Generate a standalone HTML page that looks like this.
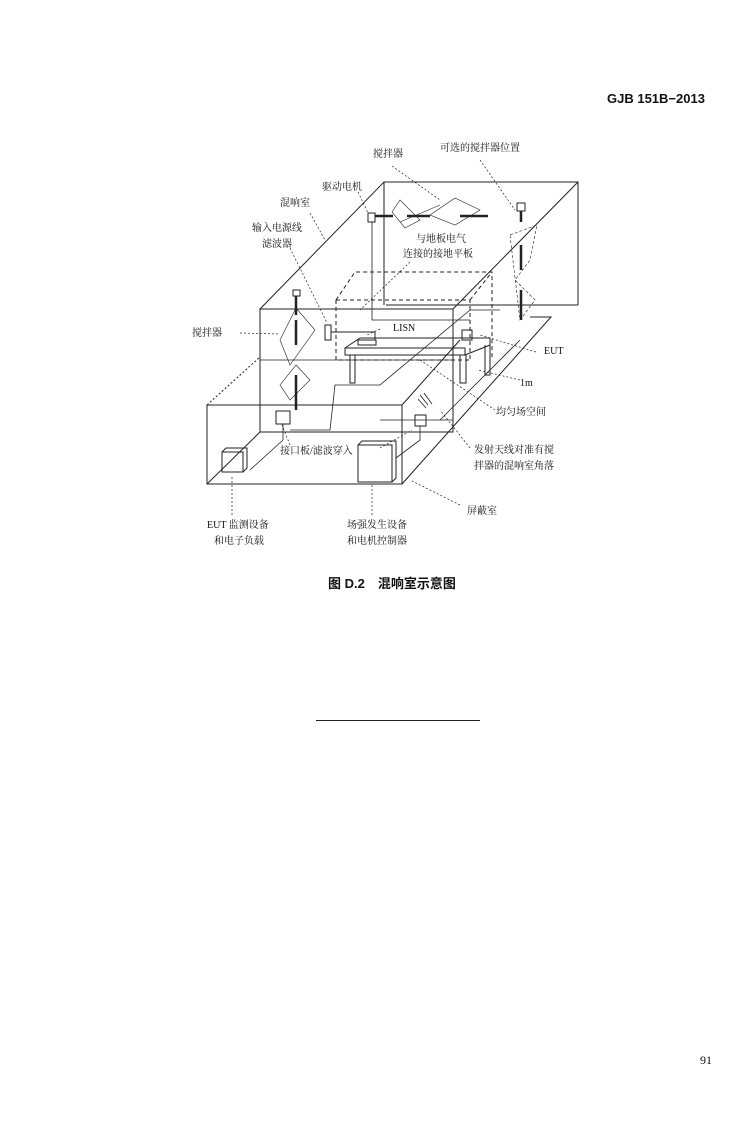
<!DOCTYPE html>
<html><head><meta charset="utf-8"><style>
body{margin:0;background:#fff;width:750px;height:1141px;overflow:hidden;position:relative;font-family:"Liberation Serif","Noto Serif CJK SC",serif;color:#111}
.t{position:absolute;font-size:10px;white-space:nowrap;line-height:12px}
</style></head><body>
<div class="t" style="left:607px;top:93px;font-size:13px;font-weight:bold;font-family:'Liberation Sans','Noto Sans CJK SC',sans-serif">GJB 151B−2013</div>
<svg width="750" height="1141" style="position:absolute;left:0;top:0" fill="none" stroke="#222" stroke-width="1">
<path d="M260,309 L384,182 L578,182 L578,305 M260,309 L453,309 L453,432 L260,432 Z M453,309 L578,182 M386,305 L578,305 M384,182 L384,305"/>
<path d="M260,360 L453,360" stroke-width="0.8"/>
<path d="M207,405 L402,405 L402,484 L207,484 Z M402,484 L551,317 L530,317 M402,405 L460,340 M207,484 L260,432" />
<path d="M207,405 L260,357" stroke-dasharray="2,2"/>
<path d="M290,430 L330,430 L335,385 L380,385 L470,310 L500,310" stroke-width="0.8"/>
<path d="M380,420 L453,420 M440,420 L520,340" stroke-width="0.8"/>
<path d="M336,300 L355,272 L492,272 L492,360 M336,300 L336,360 L470,360 M336,300 L470,300 L470,360 M470,300 L492,272" stroke-dasharray="4,3"/>
<path d="M345,348 L465,348 L465,355 L345,355 Z M345,348 L360,338 L490,338 L490,345 L465,355 M350,355 L350,383 L355,383 L355,355 M460,355 L460,383 L466,383 L466,355 M485,345 L485,375 L490,375 L490,345"/>
<rect x="358" y="340" width="18" height="5"/><rect x="462" y="330" width="10" height="10"/>
<rect x="325" y="325" width="6" height="15"/><path d="M331,332 L375,332 L375,340"/>
<rect x="293" y="290" width="7" height="6"/><path d="M296,296 L296,315" stroke-width="2.5"/><path d="M296,320 L296,345" stroke-width="2.5"/><path d="M296,375 L296,410" stroke-width="2.5"/>
<path d="M296,308 L315,330 L290,365 L280,340 Z M296,365 L310,380 L290,400 L280,385 Z" stroke-width="0.6"/>
<rect x="368" y="213" width="7" height="9"/><path d="M375,216 L393,216 M407,216 L430,216 M460,216 L488,216" stroke-width="2.5"/>
<path d="M400,200 L420,220 L405,228 L392,212 Z M430,215 L455,198 L480,210 L455,225 Z M400,222 L440,205" stroke-width="0.6"/>
<path d="M372,222 L372,320 L470,320 M372,320 L372,310" stroke-width="0.8"/>
<rect x="517" y="203" width="8" height="8"/><path d="M521,211 L521,222 M521,245 L521,270 M521,290 L521,320" stroke-width="2.5"/>
<path d="M510,235 L537,225 L530,260 L515,280 L535,300 L520,320 Z" stroke-width="0.6" stroke-dasharray="3,2"/>
<rect x="276" y="411" width="14" height="13"/><rect x="415" y="415" width="11" height="11"/>
<path d="M222,452 L243,452 L243,472 L222,472 Z M222,452 L226,448 L247,448 L247,468 L243,472"/>
<path d="M358,445 L392,445 L392,482 L358,482 Z M358,445 L362,441 L396,441 L396,478 L392,482"/>
<path d="M283,424 L283,440 L250,470 M420,426 L420,440 L396,458" stroke-width="0.8"/>
<path d="M420,395 L428,405 M424,393 L432,404 M418,399 L426,408" stroke-width="0.8"/>
<g stroke-width="0.7" stroke-dasharray="2,2">
<path d="M392,166 L440,200 M480,160 L515,210 M358,192 L368,213 M310,213 L325,240 M290,248 L327,323 M240,333 L280,334 M410,262 L360,310 M380,329 L367,335 M536,352 L480,335 M520,380 L478,370 M495,410 L420,360 M470,448 L440,410 M380,448 L412,430 M290,445 L282,425 M460,505 L410,480 M232,515 L232,476 M372,515 L372,483"/>
</g>
</svg>
<div class="t" style="left:373px;top:149px">搅拌器</div>
<div class="t" style="left:440px;top:143px">可选的搅拌器位置</div>
<div class="t" style="left:322px;top:182px">驱动电机</div>
<div class="t" style="left:280px;top:198px">混响室</div>
<div class="t" style="left:252px;top:223px">输入电源线</div>
<div class="t" style="left:262px;top:239px">滤波器</div>
<div class="t" style="left:416px;top:234px">与地板电气</div>
<div class="t" style="left:403px;top:249px">连接的接地平板</div>
<div class="t" style="left:192px;top:328px">搅拌器</div>
<div class="t" style="left:393px;top:323px;font-family:'Liberation Serif',serif">LISN</div>
<div class="t" style="left:544px;top:346px">EUT</div>
<div class="t" style="left:520px;top:378px">1m</div>
<div class="t" style="left:496px;top:407px">均匀场空间</div>
<div class="t" style="left:280px;top:446px">接口板/滤波穿入</div>
<div class="t" style="left:474px;top:445px">发射天线对准有搅</div>
<div class="t" style="left:474px;top:461px">拌器的混响室角落</div>
<div class="t" style="left:467px;top:506px">屏蔽室</div>
<div class="t" style="left:207px;top:520px">EUT 监测设备</div>
<div class="t" style="left:214px;top:536px">和电子负载</div>
<div class="t" style="left:347px;top:520px">场强发生设备</div>
<div class="t" style="left:347px;top:536px">和电机控制器</div>
<div class="t" style="left:328px;top:576px;font-size:13px;line-height:15px;font-weight:bold;font-family:'Liberation Sans','Noto Sans CJK SC',sans-serif">图 D.2　混响室示意图</div>
<div style="position:absolute;left:316px;top:720px;width:164px;height:1px;background:#222"></div>
<div class="t" style="left:700px;top:1054px;font-size:12px">91</div>
</body></html>
